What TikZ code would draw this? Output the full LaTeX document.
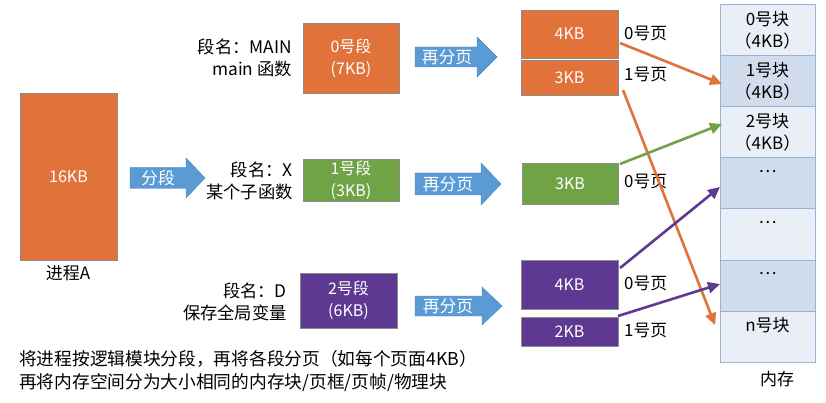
\documentclass[tikz,border=0pt]{standalone}
\usepackage{fontspec}
\setmainfont{Noto Sans CJK SC}
\usetikzlibrary{arrows.meta,calc}
\definecolor{corange}{RGB}{224,114,58}
\definecolor{cgreen}{RGB}{112,162,70}
\definecolor{cpurple}{RGB}{94,57,145}
\definecolor{cblue}{RGB}{91,155,213}
\definecolor{cbluedk}{RGB}{70,128,185}
\definecolor{mlight}{RGB}{233,238,247}
\definecolor{mdark}{RGB}{209,220,236}
\definecolor{mborder}{RGB}{150,180,214}
\tikzset{
  box/.style={draw=black!45,line width=0.7pt,inner sep=0pt,outer sep=0pt,text=white,align=center,
    font=\fontsize{16}{22}\selectfont},
  obox/.style={box,fill=corange},
  gbox/.style={box,fill=cgreen},
  pbox/.style={box,fill=cpurple},
  mblk/.style={draw=mborder,line width=1pt,inner sep=0pt,outer sep=0pt,minimum width=95pt,minimum height=51pt},
  mtxt/.style={font=\fontsize{17}{22}\selectfont,align=center,inner sep=0pt},
  lbl/.style={font=\fontsize{17.3}{21.5}\selectfont,align=right,inner sep=0pt},
  plbl/.style={font=\fontsize{16.8}{20}\selectfont,anchor=west,inner sep=0pt},
  btxt/.style={font=\fontsize{16.8}{20}\selectfont,text=white,inner sep=0pt},
  conn/.style={line width=2.6pt,-{Triangle[length=12pt,width=11pt]}},
}
\newcommand{\blockarrow}[6]{% x1, xhead, xtip, ycenter, bodyhalf, headhalf
  \fill[cblue,draw=cbluedk,line width=0.4pt] (#1,#4-#5) -- (#2,#4-#5) -- (#2,#4-#6) -- (#3,#4) -- (#2,#4+#6) -- (#2,#4+#5) -- (#1,#4+#5) -- cycle;
}
\begin{document}
\begin{tikzpicture}[x=1pt,y=-1pt]
\useasboundingbox (0,0) rectangle (826,403);
% process
\node[obox,minimum width=97pt,minimum height=167pt] (proc) at (68.5,176.5) {16KB};
\node[font=\fontsize{17}{20}\selectfont,inner sep=0pt] (procl) at (68,273) {进程A};
% segment arrow
\blockarrow{130}{186}{205}{178}{10.5}{20}
\node[btxt] (fd) at (158,178) {分段};
% segments
\node[obox,minimum width=96pt,minimum height=70pt] (s0) at (351,58) {0号段\\(7KB)};
\node[gbox,minimum width=96pt,minimum height=42pt] (s1) at (351,180) {1号段\\(3KB)};
\node[pbox,minimum width=97pt,minimum height=55pt] (s2) at (348.5,300.5) {2号段\\(6KB)};
\node[lbl,anchor=east] (l0) at (292,58) {段名：MAIN\\main 函数};
\node[lbl,anchor=east] (l1) at (293,181) {段名：X\\某个子函数};
\node[lbl,anchor=east] (l2) at (287,302) {段名：D\\保存全局变量};
% paging arrows
\blockarrow{415}{477}{497}{57}{10}{20}
\node[btxt] (r0) at (447,57) {再分页};
\blockarrow{415}{481}{501}{184}{11}{21}
\node[btxt] (r1) at (448,184) {再分页};
\blockarrow{415}{482}{502}{306}{10}{19}
\node[btxt] (r2) at (448,306) {再分页};
% pages
\node[obox,minimum width=97pt,minimum height=48pt] (p00) at (569.5,34) {4KB};
\node[obox,minimum width=97pt,minimum height=35pt] (p01) at (569.5,77.5) {3KB};
\node[gbox,minimum width=96pt,minimum height=41pt] (p10) at (570,183.5) {3KB};
\node[pbox,minimum width=97pt,minimum height=49pt] (p20) at (569.5,284.5) {4KB};
\node[pbox,minimum width=97pt,minimum height=29pt] (p21) at (569.5,331.5) {2KB};
\node[plbl] (pl00) at (624,33) {0号页};
\node[plbl] (pl01) at (624,74) {1号页};
\node[plbl] (pl10) at (624,181) {0号页};
\node[plbl] (pl20) at (624,283) {0号页};
\node[plbl] (pl21) at (624,330) {1号页};
% memory
\node[mblk,fill=mlight] (m0) at (767.5,30.5) {};
\node[mblk,fill=mdark] (m1) at (767.5,81.5) {};
\node[mblk,fill=mlight] (m2) at (767.5,132.5) {};
\node[mblk,fill=mdark] (m3) at (767.5,183.5) {};
\node[mblk,fill=mlight] (m4) at (767.5,234.5) {};
\node[mblk,fill=mdark] (m5) at (767.5,285.5) {};
\node[mblk,fill=mlight] (m6) at (767.5,336.5) {};
\node[mtxt] (t0) at (767.5,30.5) {0号块\\（4KB）};
\node[mtxt] (t1) at (767.5,81.5) {1号块\\（4KB）};
\node[mtxt] (t2) at (767.5,132.5) {2号块\\（4KB）};
\node[mtxt] (t3) at (767.5,172) {…};
\node[mtxt] (t4) at (767.5,223) {…};
\node[mtxt] (t5) at (767.5,274) {…};
\node[mtxt] (t6) at (767.5,325) {n号块};
\node[font=\fontsize{17}{20}\selectfont,inner sep=0pt] (nc) at (777,379) {内存};
% connectors
\coordinate (e1) at (722,84);
\coordinate (e2) at (715,325);
\coordinate (e3) at (722,124);
\coordinate (e4) at (720,187);
\coordinate (e5) at (720,284);
\draw[conn,corange] ([xshift=2pt,yshift=-9pt]p00.east) -- (e1);
\draw[conn,corange] ([xshift=5pt,yshift=5pt]p01.south east) -- (e2);
\draw[conn,cgreen] ([xshift=2pt,yshift=-1pt]p10.north east) -- (e3);
\draw[conn,cpurple] ([xshift=2pt,yshift=-8pt]p20.north east) -- (e4);
\draw[conn,cpurple] ([xshift=0pt,yshift=1pt]p21.north east) -- (e5);
% bottom text
\node[font=\fontsize{17.7}{23}\selectfont,align=left,anchor=west,inner sep=0pt] (note) at (19,371.5)
  {将进程按逻辑模块分段，再将各段分页（如每个页面4KB）\\再将内存空间分为大小相同的内存块/页框/页帧/物理块};
\end{tikzpicture}
\end{document}
